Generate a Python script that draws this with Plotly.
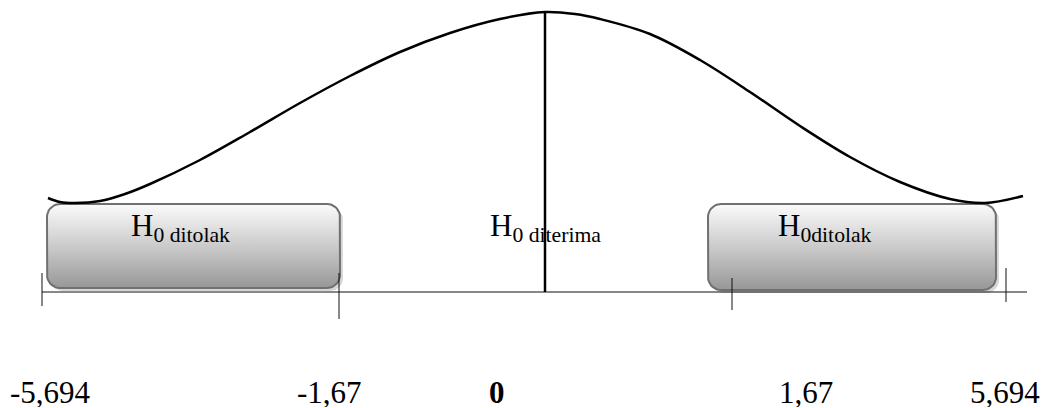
import numpy as np
import plotly.graph_objects as go

# ---- data (x in diagram units, height above the baseline) ----
curve_x = [48, 60, 75, 100, 125, 150, 200, 250, 300, 350, 400, 450, 500, 545,
           575, 600, 650, 700, 750, 800, 850, 900, 950, 985, 1023]
curve_h = [94, 90, 89, 91, 98, 108, 132, 160, 189, 216, 240, 259, 273, 280,
           278, 273, 258, 232, 200, 166, 135, 110, 93, 89, 96]

center_x = 545
center_h = 280

axis_start = 42
axis_end = 1027

tick_x = [42, 339, 732, 1006]
tick_top = [19, 19, 14, 24]
tick_bottom = [-14, -27, -18, -10]

value_labels = ["-5,694", "-1,67", "<b>0</b>", "1,67", "5,694"]
value_label_x = [50, 329, 497, 806, 1005]
value_label_h = -100

region_labels = ["H<sub>0 ditolak</sub>", "H<sub>0 diterima</sub>", "H<sub>0ditolak</sub>"]
region_label_x = [131, 490, 778]
region_label_h = 64

box_x0 = [47, 708]
box_x1 = [340, 996]
box_bottom = [4, 2]
box_top = [88, 88]

FONT = "Liberation Serif"


def rounded_rect(x0, x1, y0, y1, r, n=10):
    xs, ys = [], []
    centers = [(x1 - r, y0 + r, -90, 0), (x1 - r, y1 - r, 0, 90),
               (x0 + r, y1 - r, 90, 180), (x0 + r, y0 + r, 180, 270)]
    for cx, cy, a0, a1 in centers:
        for a in np.linspace(np.radians(a0), np.radians(a1), n):
            xs.append(cx + r * np.cos(a))
            ys.append(cy + r * np.sin(a))
    xs.append(xs[0])
    ys.append(ys[0])
    return xs, ys


fig = go.Figure()

# boxes (shadow + gradient box)
for x0, x1, b, t in zip(box_x0, box_x1, box_bottom, box_top):
    sx, sy = rounded_rect(x0 + 3, x1 + 3, b - 3, t - 3, 13)
    fig.add_trace(go.Scatter(x=sx, y=sy, mode="lines", fill="toself",
                             fillcolor="rgba(0,0,0,0.16)", line=dict(width=0),
                             hoverinfo="skip", showlegend=False))
    bx, by = rounded_rect(x0, x1, b, t, 13)
    fig.add_trace(go.Scatter(
        x=bx, y=by, mode="lines", fill="toself",
        fillgradient=dict(type="vertical",
                          colorscale=[[0, "#979797"], [0.45, "#c6c6c6"], [1, "#fbfbfb"]]),
        line=dict(color="#707070", width=2),
        hoverinfo="skip", showlegend=False))

# bell curve
fig.add_trace(go.Scatter(x=curve_x, y=curve_h, mode="lines",
                         line=dict(color="black", width=2.5, shape="spline", smoothing=1.0),
                         hoverinfo="skip", showlegend=False))

# axis line
fig.add_trace(go.Scatter(x=[axis_start, axis_end], y=[0, 0], mode="lines",
                         line=dict(color="#111111", width=1),
                         hoverinfo="skip", showlegend=False))

# ticks
for tx, tt, tb in zip(tick_x, tick_top, tick_bottom):
    fig.add_trace(go.Scatter(x=[tx, tx], y=[tb, tt], mode="lines",
                             line=dict(color="#111111", width=1),
                             hoverinfo="skip", showlegend=False))

# region labels (drawn as a text trace so the centre line passes over them)
fig.add_trace(go.Scatter(x=region_label_x, y=[region_label_h] * len(region_label_x),
                         mode="text", text=region_labels, textposition="middle right",
                         textfont=dict(family=FONT, size=31, color="black"),
                         hoverinfo="skip", showlegend=False))

# center line
fig.add_trace(go.Scatter(x=[center_x, center_x], y=[0, center_h], mode="lines",
                         line=dict(color="black", width=2.5),
                         hoverinfo="skip", showlegend=False))

# value labels
for txt, lx in zip(value_labels, value_label_x):
    fig.add_annotation(x=lx, y=value_label_h, xref="x", yref="y", text=txt,
                       showarrow=False, xanchor="center", yanchor="middle",
                       height=30,
                       font=dict(family=FONT, size=31, color="black"))

fig.update_layout(
    width=1047, height=408,
    margin=dict(l=0, r=0, t=0, b=0),
    paper_bgcolor="white", plot_bgcolor="white",
    xaxis=dict(range=[0, 1047], visible=False, fixedrange=True),
    yaxis=dict(range=[-116, 292], visible=False, fixedrange=True),
    showlegend=False,
)

fig.write_html("out.html",
               config={"displayModeBar": False, "staticPlot": True},
               post_script="document.body.style.margin='0';document.body.style.overflow='hidden';")
